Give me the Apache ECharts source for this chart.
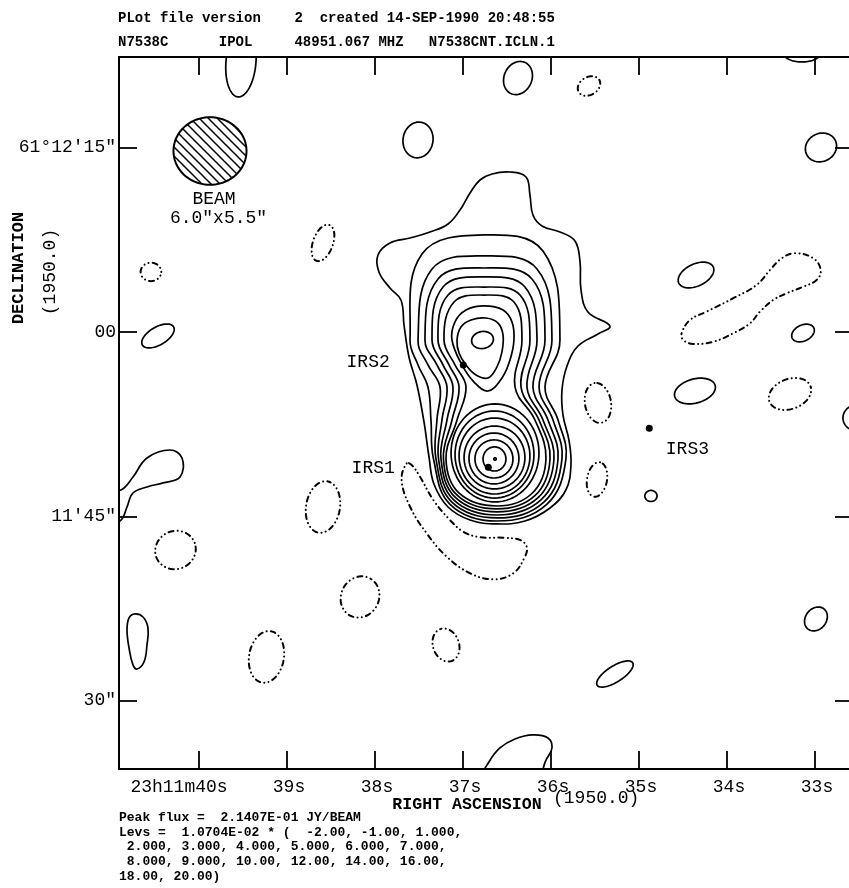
<!DOCTYPE html>
<html><head><meta charset="utf-8">
<script src="https://cdn.jsdelivr.net/npm/echarts@6/dist/echarts.min.js"></script>
<style>html,body{margin:0;padding:0;background:#fff}#c{width:849px;height:888px}</style>
</head><body><div id="c"></div>
<script>
// ---------------- data (RA in seconds of 23h11m, Dec in arcsec above 61°11'00") ----------------
const raTicks = [40, 39, 38, 37, 36, 35, 34, 33];
const raTickLabels = ['23h11m40s', '39s', '38s', '37s', '36s', '35s', '34s', '33s'];
const decTicks = [30, 45, 60, 75];
const decTickLabels = ['30"', "11'45\"", '00', "61°12'15\""];
const raRange = [32.568, 40.909];
const decRange = [24.44, 82.38];
const decDeg = 61.2;

// merged positive contours (levels 1..7 x 1.0704E-02)
const level1 = [[36.807,72.37],[36.670,72.86],[36.466,73.02],[36.284,72.62],[36.239,71.15],[36.205,69.52],[36.102,68.63],[35.898,68.14],[35.727,67.41],[35.670,65.70],[35.659,63.42],[35.580,61.63],[35.330,60.49],[35.466,59.84],[35.693,58.86],[35.818,57.24],[35.875,55.28],[35.864,53.25],[35.796,51.21],[35.773,49.18],[35.830,47.15],[36.011,45.68],[36.296,44.62],[36.614,44.38],[36.920,44.70],[37.170,45.76],[37.330,47.63],[37.386,49.83],[37.443,52.68],[37.523,55.69],[37.614,57.97],[37.670,60.57],[37.705,62.61],[37.830,63.58],[37.955,64.89],[37.966,66.27],[37.830,67.25],[37.602,67.65],[37.375,68.14],[37.170,68.79],[37.034,69.93],[36.920,71.31]];
const level2 = [[36.761,67.90],[36.091,66.59],[35.898,59.35],[36.068,55.53],[35.920,52.84],[35.830,49.67],[36.048,45.98],[36.614,44.62],[37.147,45.98],[37.335,49.67],[37.364,52.84],[37.398,55.53],[37.511,57.32],[37.602,59.35],[37.466,66.35]];
const level3 = [[36.761,66.19],[36.159,65.13],[35.989,59.35],[36.136,55.53],[35.977,52.84],[35.875,49.67],[36.081,46.16],[36.614,44.87],[37.126,46.16],[37.307,49.67],[37.296,52.84],[37.261,55.53],[37.398,57.32],[37.511,59.35],[37.352,65.13]];
const level4 = [[36.761,65.21],[36.216,64.32],[36.068,59.35],[36.205,55.53],[36.034,52.84],[35.920,49.67],[36.114,46.34],[36.614,45.11],[37.105,46.34],[37.278,49.67],[37.239,52.84],[37.182,55.53],[37.296,57.32],[37.432,59.35],[37.284,64.32]];
const level5 = [[36.761,64.48],[36.296,63.66],[36.159,59.35],[36.273,55.53],[36.091,52.84],[35.966,49.67],[36.147,46.52],[36.614,45.36],[37.084,46.52],[37.250,49.67],[37.182,52.84],[37.114,55.53],[37.227,57.32],[37.352,59.35],[37.227,63.66]];
const level6 = [[36.761,63.66],[36.352,63.01],[36.239,59.35],[36.341,55.53],[36.136,52.84],[36.011,49.67],[36.180,46.70],[36.614,45.60],[37.064,46.70],[37.222,49.67],[37.125,52.84],[37.045,55.53],[37.159,57.32],[37.284,59.35],[37.170,63.01]];
const level7 = [[36.761,63.01],[36.421,62.44],[36.330,59.35],[36.409,55.53],[36.182,52.84],[36.057,49.67],[36.214,46.88],[36.614,45.84],[37.043,46.88],[37.193,49.67],[37.068,52.84],[36.966,55.53],[37.091,57.32],[37.216,59.35],[37.102,62.44]];
// IRS2 separate rings (levels 8, 9)
const irs2Ring8 = [[37.125,59.35],[37.091,60.82],[36.966,61.79],[36.761,62.12],[36.545,61.79],[36.443,60.82],[36.421,59.35],[36.466,57.72],[36.557,56.26],[36.716,55.20],[36.875,55.93],[37.011,57.32]];
const irs2Ring9 = [[37.068,59.35],[37.023,60.41],[36.909,60.98],[36.739,61.14],[36.602,60.73],[36.545,59.76],[36.557,58.38],[36.614,57.16],[36.716,56.26],[36.852,56.50],[36.966,57.32],[37.045,58.29]];
// other positive (solid) contours given as outlines
const leftEdgeLoop = [[41.011,47.31],[40.886,47.15],[40.750,48.20],[40.591,49.75],[40.330,50.40],[40.193,49.75],[40.216,48.20],[40.409,47.72],[40.591,47.39],[40.750,46.90],[40.818,45.76],[40.886,44.70],[41.011,44.54]];
const leftDropLoop = [[40.727,37.06],[40.636,36.81],[40.580,35.92],[40.591,34.53],[40.625,33.15],[40.705,32.58],[40.750,32.91],[40.795,34.29],[40.818,35.75],[40.795,36.73]];
const bottomLoop = [[36.761,23.95],[36.705,25.01],[36.580,26.15],[36.409,26.88],[36.205,27.21],[36.034,26.96],[35.989,26.15],[36.057,25.17],[36.148,23.95]];
// negative (dashed) contours given as outlines
const irs1NegArc = [[37.640,49.32],[37.697,47.96],[37.602,45.79],[37.413,43.62],[37.185,41.72],[36.920,40.37],[36.656,39.88],[36.428,40.37],[36.296,41.72],[36.276,42.53],[36.352,43.08],[36.542,43.26],[36.807,43.30],[36.997,43.75],[37.148,44.70],[37.337,46.33],[37.489,48.23],[37.583,49.18]];
const neNegTrough = [[34.515,59.90],[34.420,60.98],[34.231,61.66],[33.928,62.75],[33.663,63.83],[33.511,65.05],[33.378,66.00],[33.227,66.41],[33.019,66.00],[32.935,65.05],[32.981,64.23],[33.133,63.69],[33.322,63.15],[33.474,62.61],[33.625,61.66],[33.739,60.71],[33.928,59.90],[34.156,59.21],[34.383,59.03],[34.497,59.35]];

// elliptical contours: [RA s, Dec ", semi-axis a ", semi-axis b ", angle deg]
const solidBlobs = [
  [39.523,81.97,2.85,1.23,85],[36.375,80.67,1.39,1.14,65],[33.148,82.63,1.48,0.65,0],
  [37.511,75.63,1.46,1.23,80],[32.932,75.02,1.31,1.14,25],[40.466,59.68,1.48,0.73,30],
  [34.864,46.66,0.50,0.45,0],[34.352,64.64,1.56,0.90,25],[33.136,59.92,0.98,0.65,25],
  [34.364,55.20,1.72,0.98,15],[32.523,53.01,1.15,1.06,0],[32.989,36.65,1.05,0.85,50],
  [35.273,32.17,1.72,0.65,32]
];
const irs1Rings = [
  [36.636,50.16,3.61,3.99,0],[36.642,50.03,3.24,3.54,0],[36.642,49.91,2.91,3.09,0],
  [36.642,49.79,2.50,2.56,0],[36.648,49.71,2.05,2.07,0],[36.648,49.67,1.56,1.55,0],
  [36.642,49.67,0.94,0.98,0],[36.636,49.67,0.10,0.10,0]
];
const irs2Ring10 = [[36.778,59.35,0.90,0.69,10]];
const negBlobs = [
  [35.568,80.02,0.98,0.73,30],[40.546,64.89,0.85,0.75,0],[38.591,67.25,1.55,0.82,70],
  [35.466,54.23,1.64,1.07,100],[35.477,48.00,1.42,0.82,80],[33.284,54.96,1.80,1.22,20],
  [38.591,45.76,2.12,1.39,80],[38.170,38.44,1.72,1.55,60],[39.233,33.56,2.12,1.43,80],
  [37.193,34.53,1.38,1.07,110],[40.267,42.26,1.68,1.55,20]
];
const beam = [[39.875,74.73,3.0,2.75,0]];   // 6.0" x 5.5"

const sourceNames = ['IRS1', 'IRS2', 'IRS3'];
const sourceRA = [36.712, 36.997, 34.883];
const sourceDec = [48.99, 57.32, 52.17];

const headerLines = ['PLot file version    2  created 14-SEP-1990 20:48:55',
                     'N7538C      IPOL     48951.067 MHZ   N7538CNT.ICLN.1'];
const footerLines = ['Peak flux =  2.1407E-01 JY/BEAM',
                     'Levs =  1.0704E-02 * (  -2.00, -1.00, 1.000,',
                     ' 2.000, 3.000, 4.000, 5.000, 6.000, 7.000,',
                     ' 8.000, 9.000, 10.00, 12.00, 14.00, 16.00,',
                     '18.00, 20.00)'];

// ---------------- drawing ----------------
const posLoops = [level1, level2, level3, level4, level5, level6, level7, irs2Ring8, irs2Ring9, leftEdgeLoop, leftDropLoop, bottomLoop];
const negLoops = [irs1NegArc, neNegTrough];
const posEllipses = solidBlobs.concat(irs1Rings, irs2Ring10);
const secPerArcsec = 1 / (15 * Math.cos(decDeg * Math.PI / 180));

const MONO = '"Liberation Mono", "DejaVu Sans Mono", monospace';
const solidStyle = { fill: 'none', stroke: '#000', lineWidth: 1.7, lineJoin: 'round' };
const dashStyle = { fill: 'none', stroke: '#000', lineWidth: 2, lineDash: [0.1, 4.2, 0.1, 4.2, 5, 4.2], lineCap: 'round' };

const hatch = document.createElement('canvas');
hatch.width = 9; hatch.height = 9;
(function () {
  const g = hatch.getContext('2d');
  g.strokeStyle = '#000'; g.lineWidth = 1.5;
  g.beginPath();
  g.moveTo(-1, -1); g.lineTo(10, 10);
  g.moveTo(-1, 8); g.lineTo(1, 10);
  g.moveTo(8, -1); g.lineTo(10, 1);
  g.stroke();
})();

function clipOf(params) {
  const cs = params.coordSys;
  return { type: 'rect', shape: { x: cs.x, y: cs.y, width: cs.width, height: cs.height } };
}
function loopRenderer(loops, style) {
  return function (params, api) {
    const pts = loops[api.value(2)].map(p => api.coord(p));
    return { type: 'group', clipPath: clipOf(params),
      children: [{ type: 'polygon', shape: { points: pts, smooth: 0.4 }, style: style }] };
  };
}
function ellipseRenderer(style) {
  return function (params, api) {
    const ra = api.value(0), dec = api.value(1), a = api.value(2), b = api.value(3), ang = api.value(4);
    const c = api.coord([ra, dec]);
    const sx = Math.abs(api.coord([ra + secPerArcsec, dec])[0] - c[0]);
    const sy = Math.abs(api.coord([ra, dec + 1])[1] - c[1]);
    const th = ang * Math.PI / 180, ct = Math.cos(th), st = Math.sin(th);
    const pts = [];
    const n = 72;
    for (let i = 0; i < n; i++) {
      const t = 2 * Math.PI * i / n;
      const ex = a * Math.cos(t), ey = b * Math.sin(t);
      const X = ex * ct - ey * st, Y = ex * st + ey * ct;
      pts.push([c[0] + X * sx, c[1] - Y * sy]);
    }
    return { type: 'group', clipPath: clipOf(params),
      children: [{ type: 'polygon', shape: { points: pts }, style: style }] };
  };
}
function labelFor(list, labels) {
  return function (v) {
    const i = list.findIndex(t => Math.abs(t - v) < 1e-6);
    return i < 0 ? '' : labels[i];
  };
}

const tickStyle = { show: true, inside: true, length: 18, lineStyle: { color: '#000', width: 1.8 } };
const lineStyle = { show: true, onZero: false, lineStyle: { color: '#000', width: 2 } };
function xAx(pos, labels) {
  return {
    type: 'value', position: pos, inverse: true, min: raRange[0], max: raRange[1],
    axisLine: lineStyle,
    axisTick: Object.assign({ customValues: raTicks }, tickStyle),
    axisLabel: labels ? {
      show: true, customValues: raTicks, margin: 9, color: '#000', fontFamily: MONO, fontSize: 18,
      formatter: function (v) {
        const i = raTicks.findIndex(t => Math.abs(t - v) < 1e-6);
        if (i < 0) return '';
        return (i === 0 ? '{f|' : '{n|') + raTickLabels[i] + '}';
      },
      rich: {
        f: { padding: [0, 40, 0, 0], fontFamily: MONO, fontSize: 18, color: '#000' },
        n: { padding: [0, 0, 0, 4], fontFamily: MONO, fontSize: 18, color: '#000' }
      }
    } : { show: false },
    splitLine: { show: false }
  };
}
function yAx(pos, labels) {
  return {
    type: 'value', position: pos, min: decRange[0], max: decRange[1],
    axisLine: lineStyle,
    axisTick: Object.assign({ customValues: decTicks }, tickStyle),
    axisLabel: labels ? { show: true, customValues: decTicks, margin: 3, color: '#000', fontFamily: MONO, fontSize: 18,
      formatter: labelFor(decTicks, decTickLabels) } : { show: false },
    splitLine: { show: false }
  };
}

function txt(x, y, text, opts) {
  opts = opts || {};
  return {
    type: 'text', x: x, y: y, rotation: opts.rot || 0, silent: true,
    style: { text: text, fill: '#000', font: opts.font || ('18px ' + MONO),
      textAlign: opts.align || 'left', textVerticalAlign: 'middle' }
  };
}
const HEAD = 'bold 14px ' + MONO;
const FOOT = 'bold 13px ' + MONO;
const graphics = [];
headerLines.forEach((t, i) => graphics.push(txt(118, 18.5 + i * 23.5, t, { font: HEAD })));
footerLines.forEach((t, i) => graphics.push(txt(119, 818 + i * 14.6, t, { font: FOOT })));
graphics.push(txt(467, 805, 'RIGHT ASCENSION', { font: 'bold 16.6px ' + MONO, align: 'center' }));
graphics.push(txt(553, 798, '(1950.0)'));
graphics.push(txt(18.5, 268, 'DECLINATION', { font: 'bold 17px ' + MONO, align: 'center', rot: Math.PI / 2 }));
graphics.push(txt(50, 272, '(1950.0)', { align: 'center', rot: Math.PI / 2 }));
graphics.push(txt(214, 199, 'BEAM', { align: 'center' }));
graphics.push(txt(218.5, 218, '6.0"x5.5"', { align: 'center' }));

const labelCfg = {
  IRS1: { position: 'left', distance: 90, offset: [0, 1] },
  IRS2: { position: 'left', distance: 70, offset: [0, -3] },
  IRS3: { position: 'right', distance: 13, offset: [0, 21] }
};

const chart = echarts.init(document.getElementById('c'));
chart.setOption({
  animation: false,
  backgroundColor: '#fff',
  grid: { left: 119, top: 57, width: 734, height: 712, show: false, containLabel: false, outerBoundsMode: 'none' },
  xAxis: [xAx('bottom', true), xAx('top', false)],
  yAxis: [yAx('left', true), yAx('right', false)],
  graphic: { elements: graphics },
  series: [
    { type: 'custom', name: 'pos-loops', clip: true, renderItem: loopRenderer(posLoops, solidStyle),
      data: posLoops.map((l, i) => [l[0][0], l[0][1], i]), silent: true },
    { type: 'custom', name: 'neg-loops', clip: true, renderItem: loopRenderer(negLoops, dashStyle),
      data: negLoops.map((l, i) => [l[0][0], l[0][1], i]), silent: true },
    { type: 'custom', name: 'pos-ellipses', clip: true, renderItem: ellipseRenderer(solidStyle),
      data: posEllipses, silent: true },
    { type: 'custom', name: 'neg-ellipses', clip: true, renderItem: ellipseRenderer(dashStyle),
      data: negBlobs, silent: true },
    { type: 'custom', name: 'beam', clip: true,
      renderItem: ellipseRenderer({ fill: { image: hatch, repeat: 'repeat' }, stroke: '#000', lineWidth: 2 }),
      data: beam, silent: true },
    { type: 'scatter', name: 'sources', symbol: 'circle', symbolSize: 7, itemStyle: { color: '#000', opacity: 1 }, silent: true,
      data: sourceNames.map((n, i) => ({
        name: n, value: [sourceRA[i], sourceDec[i]],
        label: Object.assign({ show: true, formatter: n, color: '#000', fontFamily: MONO, fontSize: 18 }, labelCfg[n])
      })) }
  ]
});
</script>
</body></html>
